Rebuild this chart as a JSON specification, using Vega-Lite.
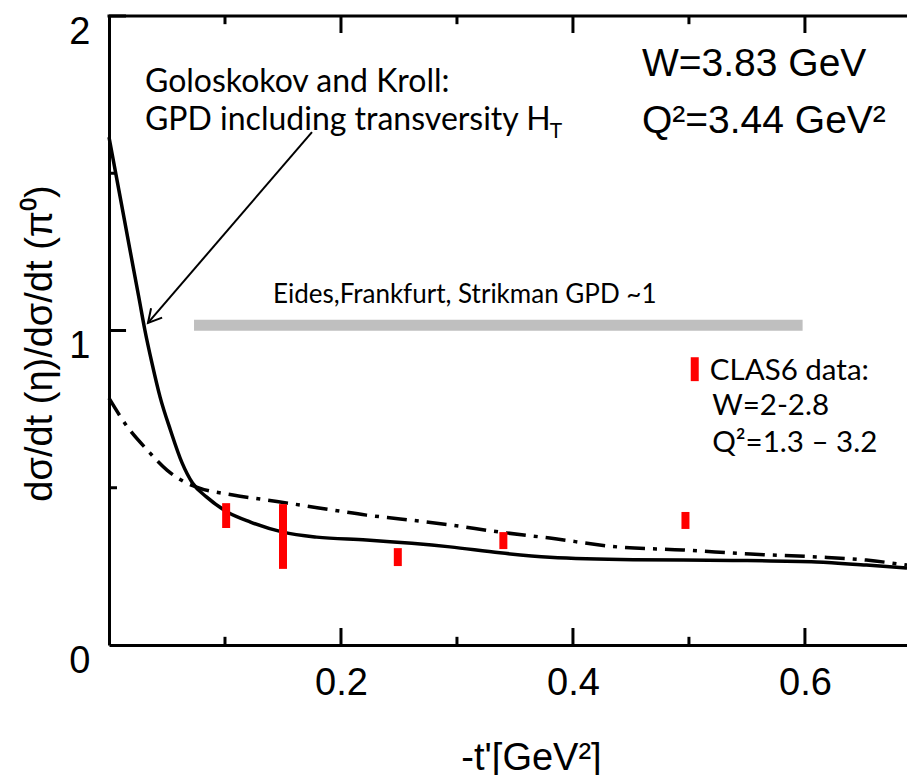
{
  "$schema": "https://vega.github.io/schema/vega-lite/v6.json",
  "autosize": "none",
  "width": 798,
  "height": 629,
  "padding": {"left": 109, "top": 16, "right": 0, "bottom": 130},
  "background": "white",
  "config": {
    "view": {"stroke": null},
    "axis": {
      "grid": false,
      "ticks": false,
      "domainColor": "black",
      "domainWidth": 3,
      "labelFont": "Liberation Sans",
      "labelFontSize": 38,
      "labelColor": "black",
      "labelOverlap": false,
      "labelFlush": false,
      "titleFont": "Liberation Sans",
      "titleFontSize": 38,
      "titleFontWeight": "normal",
      "titleColor": "black"
    },
    "rule": {"color": "black", "strokeWidth": 3},
    "text": {"font": "Lato", "color": "black", "align": "left", "baseline": "alphabetic"}
  },
  "resolve": {"axis": {"x": "independent", "y": "independent"}},
  "layer": [
    {
      "description": "Eides, Frankfurt, Strikman GPD estimate (ratio ~1)",
      "data": {"values": [{"t0": 0.0733, "t1": 0.598, "ratio": 1.017}]},
      "mark": {"type": "rule", "color": "#bfbfbf", "strokeWidth": 11, "strokeCap": "butt"},
      "encoding": {
        "x": {
          "field": "t0", "type": "quantitative",
          "scale": {"domain": [0, 0.688], "nice": false, "zero": false},
          "axis": {
            "orient": "bottom",
            "values": [0.2, 0.4, 0.6],
            "format": ".1f",
            "labelOverlap": false,
            "labelPadding": 19,
            "labelBaseline": "top",
            "title": "-t'[GeV²]",
            "titleX": 422,
            "titleY": 124,
            "titleAlign": "center",
            "titleBaseline": "alphabetic"
          }
        },
        "x2": {"field": "t1"},
        "y": {
          "field": "ratio", "type": "quantitative",
          "scale": {"domain": [0, 2], "nice": false},
          "axis": {
            "orient": "left",
            "values": [0, 0.5, 1, 1.5, 2],
            "labelExpr": "datum.value % 1 == 0 ? format(datum.value, 'd') : ''",
            "labelOverlap": false,
            "labelPadding": 19,
            "labelBaseline": "top",
            "labelOffset": -3,
            "title": "dσ/dt (η)/dσ/dt (π⁰)",
            "titleAngle": -90,
            "titleX": -69,
            "titleY": 327,
            "titleAlign": "center",
            "titleBaseline": "middle"
          }
        }
      }
    },
    {
      "description": "Goloskokov-Kroll: GPD including transversity",
      "data": {"values": [
        {"t": 0.0, "ratio": 1.615}, {"t": 0.009, "ratio": 1.437}, {"t": 0.018, "ratio": 1.258},
        {"t": 0.026, "ratio": 1.1}, {"t": 0.031, "ratio": 1.0}, {"t": 0.037, "ratio": 0.897},
        {"t": 0.044, "ratio": 0.789}, {"t": 0.053, "ratio": 0.683}, {"t": 0.063, "ratio": 0.579},
        {"t": 0.072, "ratio": 0.515}, {"t": 0.084, "ratio": 0.471}, {"t": 0.102, "ratio": 0.423},
        {"t": 0.122, "ratio": 0.391}, {"t": 0.15, "ratio": 0.359}, {"t": 0.179, "ratio": 0.343},
        {"t": 0.222, "ratio": 0.334}, {"t": 0.294, "ratio": 0.312}, {"t": 0.337, "ratio": 0.293},
        {"t": 0.38, "ratio": 0.279}, {"t": 0.452, "ratio": 0.271}, {"t": 0.538, "ratio": 0.269},
        {"t": 0.61, "ratio": 0.264}, {"t": 0.653, "ratio": 0.254}, {"t": 0.688, "ratio": 0.245}
      ]},
      "mark": {"type": "line", "color": "black", "strokeWidth": 3.5, "interpolate": "monotone"},
      "encoding": {
        "x": {"field": "t", "type": "quantitative", "axis": null},
        "y": {"field": "ratio", "type": "quantitative", "axis": null}
      }
    },
    {
      "description": "dash-dot model curve",
      "data": {"values": [
        {"t": 0.0, "ratio": 0.785}, {"t": 0.016, "ratio": 0.693}, {"t": 0.033, "ratio": 0.62},
        {"t": 0.05, "ratio": 0.556}, {"t": 0.067, "ratio": 0.515}, {"t": 0.078, "ratio": 0.499},
        {"t": 0.107, "ratio": 0.477}, {"t": 0.136, "ratio": 0.461}, {"t": 0.165, "ratio": 0.445},
        {"t": 0.193, "ratio": 0.429}, {"t": 0.222, "ratio": 0.413}, {"t": 0.251, "ratio": 0.401},
        {"t": 0.294, "ratio": 0.382}, {"t": 0.337, "ratio": 0.359}, {"t": 0.38, "ratio": 0.34},
        {"t": 0.438, "ratio": 0.312}, {"t": 0.495, "ratio": 0.302}, {"t": 0.553, "ratio": 0.289},
        {"t": 0.61, "ratio": 0.28}, {"t": 0.653, "ratio": 0.27}, {"t": 0.688, "ratio": 0.254}
      ]},
      "mark": {"type": "line", "color": "black", "strokeWidth": 3.5, "strokeDash": [20, 8, 4, 8], "interpolate": "monotone"},
      "encoding": {
        "x": {"field": "t", "type": "quantitative", "axis": null},
        "y": {"field": "ratio", "type": "quantitative", "axis": null}
      }
    },
    {
      "description": "top edge of the frame",
      "data": {"values": [{"edge": "top"}]},
      "mark": {"type": "rule", "strokeCap": "square"},
      "encoding": {
        "x": {"datum": 0, "type": "quantitative", "axis": null},
        "x2": {"datum": 0.688},
        "y": {"datum": 2, "type": "quantitative", "axis": null}
      }
    },
    {
      "description": "ticks along the bottom and top edges",
      "data": {"values": [
        {"t": 0.1, "from": 0, "to": 0.026}, {"t": 0.2, "from": 0, "to": 0.054},
        {"t": 0.3, "from": 0, "to": 0.026}, {"t": 0.4, "from": 0, "to": 0.054},
        {"t": 0.5, "from": 0, "to": 0.026}, {"t": 0.6, "from": 0, "to": 0.054},
        {"t": 0.1, "from": 2, "to": 1.974}, {"t": 0.2, "from": 2, "to": 1.946},
        {"t": 0.3, "from": 2, "to": 1.974}, {"t": 0.4, "from": 2, "to": 1.946},
        {"t": 0.5, "from": 2, "to": 1.974}, {"t": 0.6, "from": 2, "to": 1.946}
      ]},
      "mark": {"type": "rule", "strokeCap": "butt"},
      "encoding": {
        "x": {"field": "t", "type": "quantitative", "axis": null},
        "y": {"field": "from", "type": "quantitative", "axis": null},
        "y2": {"field": "to"}
      }
    },
    {
      "description": "ticks along the left edge",
      "data": {"values": [
        {"r": 0.5, "from": 0, "to": 0.0069}, {"r": 1, "from": 0, "to": 0.0147},
        {"r": 1.5, "from": 0, "to": 0.0069}, {"r": 2, "from": 0, "to": 0.0147}
      ]},
      "mark": {"type": "rule", "strokeCap": "butt"},
      "encoding": {
        "y": {"field": "r", "type": "quantitative", "axis": null},
        "x": {"field": "from", "type": "quantitative", "axis": null},
        "x2": {"field": "to"}
      }
    },
    {
      "description": "CLAS6 data: W=2-2.8, Q2=1.3-3.2",
      "data": {"values": [
        {"t": 0.101, "lo": 0.372, "hi": 0.451},
        {"t": 0.15, "lo": 0.242, "hi": 0.448},
        {"t": 0.249, "lo": 0.251, "hi": 0.308},
        {"t": 0.34, "lo": 0.305, "hi": 0.359},
        {"t": 0.497, "lo": 0.369, "hi": 0.423}
      ]},
      "mark": {"type": "rule", "color": "#ff0000", "strokeWidth": 8, "strokeCap": "butt"},
      "encoding": {
        "x": {"field": "t", "type": "quantitative", "axis": null},
        "y": {"field": "lo", "type": "quantitative", "axis": null},
        "y2": {"field": "hi"}
      }
    },
    {
      "data": {"values": [{"series": "CLAS6"}]},
      "mark": {"type": "rule", "color": "#ff0000", "strokeWidth": 8, "strokeCap": "butt"},
      "encoding": {
        "x": {"datum": 0.505, "type": "quantitative", "axis": null},
        "y": {"datum": 0.839, "type": "quantitative", "axis": null},
        "y2": {"datum": 0.915}
      }
    },
    {
      "data": {"values": [{"note": "arrow"}]},
      "mark": {"type": "rule", "color": "black", "strokeWidth": 2},
      "encoding": {
        "x": {"datum": 0.175, "type": "quantitative", "axis": null},
        "y": {"datum": 1.631, "type": "quantitative", "axis": null},
        "x2": {"datum": 0.0336},
        "y2": {"datum": 1.024}
      }
    },
    {
      "data": {"values": [{"note": "arrowhead"}]},
      "mark": {"type": "point", "shape": "M-1,-0.55L0,0L-1,0.55", "filled": false, "stroke": "black", "strokeWidth": 2, "size": 700, "angle": 130.65, "opacity": 1},
      "encoding": {
        "x": {"datum": 0.0336, "type": "quantitative", "axis": null},
        "y": {"datum": 1.024, "type": "quantitative", "axis": null}
      }
    },
    {
      "data": {"values": [{"label": "Goloskokov and Kroll:"}]},
      "mark": {"type": "text", "fontSize": 32},
      "encoding": {
        "x": {"datum": 0.031, "type": "quantitative", "axis": null},
        "y": {"datum": 1.757, "type": "quantitative", "axis": null},
        "text": {"field": "label"}
      }
    },
    {
      "data": {"values": [{"label": "GPD including transversity H"}]},
      "mark": {"type": "text", "fontSize": 32},
      "encoding": {
        "x": {"datum": 0.031, "type": "quantitative", "axis": null},
        "y": {"datum": 1.637, "type": "quantitative", "axis": null},
        "text": {"field": "label"}
      }
    },
    {
      "data": {"values": [{"label": "T"}]},
      "mark": {"type": "text", "fontSize": 21},
      "encoding": {
        "x": {"datum": 0.38, "type": "quantitative", "axis": null},
        "y": {"datum": 1.612, "type": "quantitative", "axis": null},
        "text": {"field": "label"}
      }
    },
    {
      "data": {"values": [{"label": "Eides,Frankfurt, Strikman GPD ~1"}]},
      "mark": {"type": "text", "fontSize": 26},
      "encoding": {
        "x": {"datum": 0.1414, "type": "quantitative", "axis": null},
        "y": {"datum": 1.087, "type": "quantitative", "axis": null},
        "text": {"field": "label"}
      }
    },
    {
      "data": {"values": [{"label": "W=3.83 GeV"}]},
      "mark": {"type": "text", "font": "Liberation Sans", "fontSize": 39},
      "encoding": {
        "x": {"datum": 0.4595, "type": "quantitative", "axis": null},
        "y": {"datum": 1.809, "type": "quantitative", "axis": null},
        "text": {"field": "label"}
      }
    },
    {
      "data": {"values": [{"label": "Q²=3.44 GeV²"}]},
      "mark": {"type": "text", "font": "Liberation Sans", "fontSize": 39},
      "encoding": {
        "x": {"datum": 0.4595, "type": "quantitative", "axis": null},
        "y": {"datum": 1.628, "type": "quantitative", "axis": null},
        "text": {"field": "label"}
      }
    },
    {
      "data": {"values": [{"label": "CLAS6 data:"}]},
      "mark": {"type": "text", "fontSize": 29.5},
      "encoding": {
        "x": {"datum": 0.518, "type": "quantitative", "axis": null},
        "y": {"datum": 0.843, "type": "quantitative", "axis": null},
        "text": {"field": "label"}
      }
    },
    {
      "data": {"values": [{"label": "W=2-2.8"}]},
      "mark": {"type": "text", "fontSize": 29.5},
      "encoding": {
        "x": {"datum": 0.52, "type": "quantitative", "axis": null},
        "y": {"datum": 0.731, "type": "quantitative", "axis": null},
        "text": {"field": "label"}
      }
    },
    {
      "data": {"values": [{"label": "Q²=1.3 – 3.2"}]},
      "mark": {"type": "text", "fontSize": 29.5},
      "encoding": {
        "x": {"datum": 0.52, "type": "quantitative", "axis": null},
        "y": {"datum": 0.614, "type": "quantitative", "axis": null},
        "text": {"field": "label"}
      }
    }
  ]
}
